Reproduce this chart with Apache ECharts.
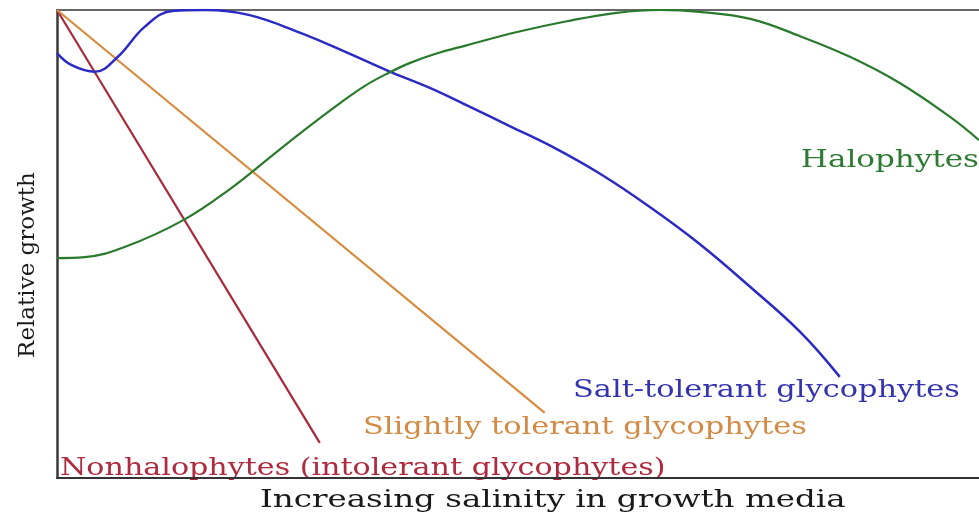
<!DOCTYPE html>
<html>
<head>
<meta charset="utf-8">
<title>Relative growth vs salinity</title>
<script src="https://cdn.jsdelivr.net/npm/echarts@6/dist/echarts.min.js"></script>
<style>
  html, body { margin: 0; padding: 0; background: #fff; }
  #chart { width: 979px; height: 516px; }
</style>
</head>
<body>
<div id="chart"></div>
<script>
// salinity (0-100, arbitrary) vs relative growth (0-100, arbitrary)
var nonhaloX = [0, 28.5];
var nonhaloY = [100, 7.5];

var slightX = [0, 52.9];
var slightY = [100, 13.9];

var saltTolX = [0, 1.6, 4.1, 6.6, 9.5, 12.5, 16.1, 20.9, 26.4, 31.1, 35.9, 40.5, 44.8, 49.1, 53.5, 58.9, 64.3, 69.7, 75.2, 80.6, 84.9];
var saltTolY = [90.8, 88.2, 86.8, 90.0, 96.4, 99.8, 100, 98.9, 95.1, 91.2, 87.0, 83.3, 79.3, 75.2, 71.0, 65.0, 57.9, 50.0, 40.8, 31.2, 21.6];

var haloX = [0, 3.0, 7.4, 13.7, 18.8, 23.4, 26.4, 30.7, 33.4, 35.9, 38.3, 41.0, 44.5, 49.9, 55.3, 60.7, 65.4, 69.7, 75.2, 80.6, 86.0, 91.4, 96.9, 100];
var haloY = [47.0, 47.2, 49.4, 55.1, 61.8, 69.0, 73.7, 80.1, 83.8, 86.5, 88.7, 90.6, 92.5, 95.3, 97.6, 99.4, 100, 99.6, 98.1, 94.4, 90.0, 84.4, 77.1, 72.2];

var labels = {
  halo: 'Halophytes',
  saltTol: 'Salt-tolerant glycophytes',
  slight: 'Slightly tolerant glycophytes',
  nonhalo: 'Nonhalophytes (intolerant glycophytes)'
};
var xName = 'Increasing salinity in growth media';
var yName = 'Relative growth';

function pairs(xs, ys) {
  var out = [];
  for (var i = 0; i < xs.length; i++) out.push([xs[i], ys[i]]);
  return out;
}

var serif = '"DejaVu Serif", "Liberation Serif", serif';

// the source picture is stretched sideways, so the labels get a scaleX
function label(text, x, y, color, align, sx) {
  return {
    type: 'text', x: x, y: y, scaleX: sx, silent: true,
    style: {
      text: text, fill: color, font: '25px ' + serif,
      textAlign: align, textVerticalAlign: 'middle'
    }
  };
}

var chart = echarts.init(document.getElementById('chart'));

var option = {
  backgroundColor: '#fff',
  animation: false,
  grid: { left: 57, right: 0, top: 10, bottom: 38, containLabel: false, outerBoundsMode: 'none' },
  xAxis: [
    {
      type: 'value', min: 0, max: 100,
      axisLine: { show: true, lineStyle: { color: '#333', width: 2 } },
      axisTick: { show: false }, axisLabel: { show: false }, splitLine: { show: false }
    },
    {
      type: 'value', min: 0, max: 100, position: 'top',
      axisLine: { show: true, lineStyle: { color: '#666', width: 2 } },
      axisTick: { show: false }, axisLabel: { show: false }, splitLine: { show: false }
    }
  ],
  yAxis: {
    type: 'value', min: 0, max: 100,
    axisLine: { show: true, lineStyle: { color: '#3a3a3a', width: 2.5 } },
    axisTick: { show: false }, axisLabel: { show: false }, splitLine: { show: false }
  },
  series: [
    {
      name: labels.nonhalo, type: 'line', showSymbol: false,
      data: pairs(nonhaloX, nonhaloY),
      lineStyle: { color: '#a8283c', width: 2.2 }
    },
    {
      name: labels.slight, type: 'line', showSymbol: false,
      data: pairs(slightX, slightY),
      lineStyle: { color: '#d98b3f', width: 2.2 }
    },
    {
      name: labels.saltTol, type: 'line', showSymbol: false, smooth: 0.4,
      data: pairs(saltTolX, saltTolY),
      lineStyle: { color: '#2b2bc4', width: 2.5 }
    },
    {
      name: labels.halo, type: 'line', showSymbol: false, smooth: 0.4,
      data: pairs(haloX, haloY),
      lineStyle: { color: '#2a7a2e', width: 2.2 }
    }
  ],
  graphic: [
    label(labels.halo, 979, 160, '#2d7a32', 'right', 1.24),
    label(labels.saltTol, 573, 390, '#3434b0', 'left', 1.215),
    label(labels.slight, 363, 427, '#d28a44', 'left', 1.215),
    label(labels.nonhalo, 60, 468, '#b02a3e', 'left', 1.205),
    label(xName, 260, 500, '#1a1a1a', 'left', 1.3),
    {
      type: 'text', x: 28, y: 265, rotation: Math.PI / 2, silent: true,
      style: {
        text: yName, fill: '#1a1a1a', font: '23px ' + serif,
        textAlign: 'center', textVerticalAlign: 'middle'
      }
    }
  ]
};

chart.setOption(option);
</script>
</body>
</html>
